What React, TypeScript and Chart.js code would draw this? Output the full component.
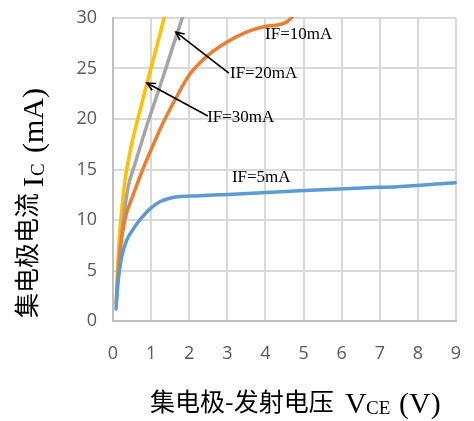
import React, { useEffect, useRef } from "react";
import { Chart, registerables } from "chart.js";

Chart.register(...registerables);

// IF = 5 mA
const vce5 = [0.08, 0.14, 0.23, 0.36, 0.53, 0.75, 0.97, 1.23, 1.54, 2.28, 3.16, 4.9, 6.66, 7.45, 8.98];
const ic5 = [1.2, 4.1, 6.4, 8.0, 9.1, 10.2, 11.1, 11.8, 12.2, 12.4, 12.55, 12.9, 13.2, 13.3, 13.7];
// IF = 10 mA
const vce10 = [0.08, 0.12, 0.18, 0.31, 0.53, 0.78, 1.05, 1.28, 1.67, 2.0, 2.46, 2.98, 3.5, 3.99, 4.3, 4.56, 4.75, 4.9];
const ic10 = [1.8, 4.0, 6.7, 10.0, 12.5, 15.0, 17.4, 19.35, 22.2, 24.35, 26.2, 27.6, 28.6, 29.15, 29.3, 29.6, 30.3, 31];
// IF = 20 mA
const vce20 = [0.1, 0.14, 0.2, 0.27, 0.4, 0.58, 0.75, 0.9, 1.15, 1.36, 1.58, 1.8, 1.9];
const ic20 = [2.8, 4.8, 7.6, 10.0, 13.3, 15.6, 17.7, 19.5, 22.3, 24.7, 27.3, 29.8, 31];
// IF = 30 mA
const vce30 = [0.1, 0.14, 0.18, 0.23, 0.31, 0.45, 0.6, 0.72, 0.84, 1.02, 1.19, 1.32, 1.4];
const ic30 = [3.5, 6.5, 9.0, 11.0, 13.8, 16.8, 19.3, 21.0, 22.8, 25.4, 27.8, 29.7, 31];

const seriesNames = ["IF=5mA", "IF=10mA", "IF=20mA", "IF=30mA"];
const seriesColors = ["#5b9bd5", "#ed7d31", "#a5a5a5", "#ffc000"];

// curve labels (data coords)
const labelTexts = ["IF=10mA", "IF=20mA", "IF=30mA", "IF=5mA"];
const labelX = [3.99, 3.07, 2.47, 3.12];
const labelY = [28.4, 24.55, 20.1, 14.16];
// arrows (tail -> head, data coords)
const arrowFromX = [3.04, 2.49];
const arrowFromY = [24.55, 20.3];
const arrowToX = [1.65, 0.89];
const arrowToY = [28.6, 23.56];

const CJK_FONT = '25px "Noto Sans CJK SC", sans-serif';
const LAT_FONT = '30px "Liberation Serif", serif';
const SUB_FONT = '19px "Liberation Serif", serif';

// title pieces: text, font, offset along the text line, baseline offset
const xTitleParts = [
  { t: "集电极-发射电压", f: CJK_FONT, dx: 0, dy: -2 },
  { t: "V", f: LAT_FONT, dx: 195, dy: 0 },
  { t: "CE", f: SUB_FONT, dx: 216, dy: 1 },
  { t: "(V)", f: LAT_FONT, dx: 249, dy: 0 },
];
const yTitleParts = [
  { t: "集电极电流", f: CJK_FONT, dx: 0, dy: -7 },
  { t: "I", f: LAT_FONT, dx: 131, dy: 0 },
  { t: "C", f: SUB_FONT, dx: 142, dy: 1 },
  { t: "(mA)", f: LAT_FONT, dx: 165, dy: 0 },
];

function drawRich(
  ctx: CanvasRenderingContext2D,
  parts: { t: string; f: string; dx: number; dy: number }[],
  x: number,
  y: number,
  angle: number
) {
  ctx.save();
  ctx.translate(x, y);
  ctx.rotate(angle);
  ctx.fillStyle = "#000";
  ctx.textBaseline = "alphabetic";
  ctx.textAlign = "left";
  for (const p of parts) {
    ctx.font = p.f;
    ctx.fillText(p.t, p.dx, p.dy);
  }
  ctx.restore();
}

const overlayPlugin = {
  id: "overlay",
  afterDraw(chart: any) {
    const ctx: CanvasRenderingContext2D = chart.ctx;
    const xs = chart.scales.x;
    const ys = chart.scales.y;
    ctx.save();
    ctx.font = '17px "Liberation Serif", serif';
    ctx.fillStyle = "#000";
    ctx.textBaseline = "middle";
    ctx.textAlign = "left";
    labelTexts.forEach((t, i) => {
      ctx.fillText(t, xs.getPixelForValue(labelX[i]), ys.getPixelForValue(labelY[i]));
    });
    ctx.strokeStyle = "#000";
    ctx.lineWidth = 1.6;
    arrowFromX.forEach((_, i) => {
      const x1 = xs.getPixelForValue(arrowFromX[i]);
      const y1 = ys.getPixelForValue(arrowFromY[i]);
      const x2 = xs.getPixelForValue(arrowToX[i]);
      const y2 = ys.getPixelForValue(arrowToY[i]);
      ctx.beginPath();
      ctx.moveTo(x1, y1);
      ctx.lineTo(x2, y2);
      ctx.stroke();
      const a = Math.atan2(y2 - y1, x2 - x1);
      const L = 9;
      ctx.beginPath();
      ctx.moveTo(x2 - L * Math.cos(a - 0.45), y2 - L * Math.sin(a - 0.45));
      ctx.lineTo(x2, y2);
      ctx.lineTo(x2 - L * Math.cos(a + 0.45), y2 - L * Math.sin(a + 0.45));
      ctx.stroke();
    });
    ctx.restore();
    drawRich(ctx, xTitleParts, 150, 413, 0);
    drawRich(ctx, yTitleParts, 43, 318, -Math.PI / 2);
  },
};

export default function App() {
  const ref = useRef<HTMLCanvasElement | null>(null);
  useEffect(() => {
    if (!ref.current) return;
    const mk = (xs: number[], ys: number[]) => xs.map((v, i) => ({ x: v, y: ys[i] }));
    const data = [mk(vce5, ic5), mk(vce10, ic10), mk(vce20, ic20), mk(vce30, ic30)];
    const tickFont = { family: '"Open Sans", "Noto Sans", sans-serif', size: 18 };
    const chart = new Chart(ref.current, {
      type: "scatter",
      data: {
        datasets: data.map((d, i) => ({
          label: seriesNames[i],
          data: d,
          showLine: true,
          borderColor: seriesColors[i],
          backgroundColor: seriesColors[i],
          borderWidth: 3.5,
          pointRadius: 0,
          cubicInterpolationMode: "monotone" as const,
          borderCapStyle: "round" as const,
          clip: 1,
        })),
      },
      options: {
        animation: false,
        responsive: true,
        maintainAspectRatio: false,
        devicePixelRatio: 1,
        layout: { padding: { left: 0, top: 18, right: 18, bottom: 0 } },
        plugins: { legend: { display: false }, tooltip: { enabled: false } },
        scales: {
          x: {
            type: "linear",
            min: 0,
            max: 9,
            ticks: { stepSize: 1, padding: 22, color: "#595959", font: tickFont },
            grid: { color: "#d9d9d9", lineWidth: 2, drawTicks: false },
            border: { color: "#bfbfbf", width: 2 },
            afterFit: (s: any) => {
              s.height = 100;
              s.paddingLeft = 0;
              s.paddingRight = 0;
            },
          },
          y: {
            type: "linear",
            min: 0,
            max: 30,
            ticks: { stepSize: 5, padding: 16, color: "#595959", font: tickFont },
            grid: { color: "#d9d9d9", lineWidth: 2, drawTicks: false },
            border: { color: "#bfbfbf", width: 2 },
            afterFit: (s: any) => {
              s.width = 113;
              s.paddingTop = 0;
              s.paddingBottom = 0;
            },
          },
        },
      },
      plugins: [overlayPlugin],
    });
    return () => chart.destroy();
  }, []);
  return (
    <div style={{ position: "absolute", left: 0, top: 0, width: 474, height: 421, background: "#fff" }}>
      <canvas ref={ref} />
    </div>
  );
}
